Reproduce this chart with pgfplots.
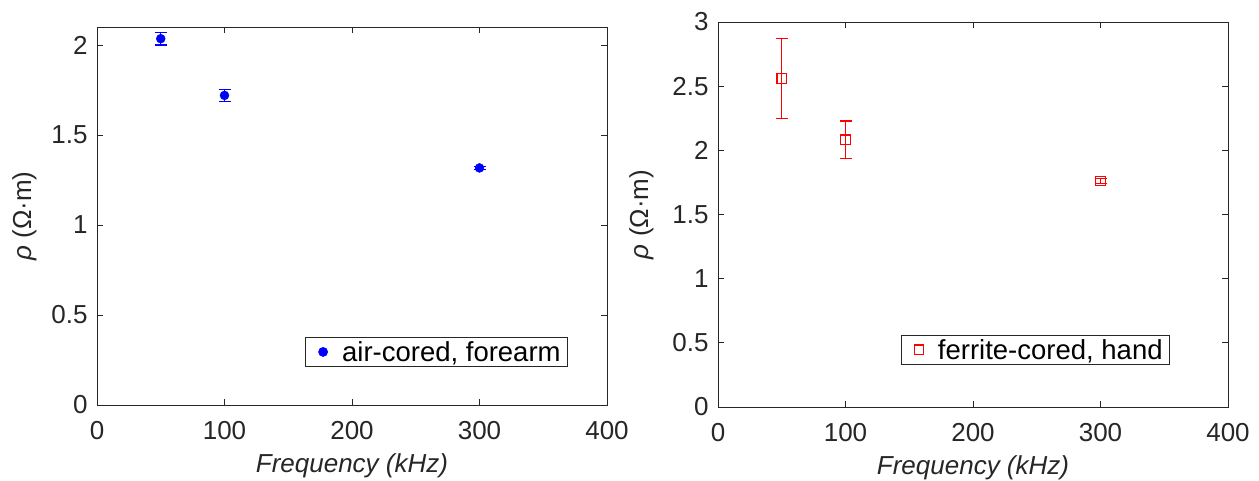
\documentclass[border=0pt]{standalone}
\usepackage{fontspec}
\setmainfont{Liberation Sans}
\usepackage{pgfplots}
\pgfplotsset{compat=1.18}
\definecolor{axgray}{gray}{0.15}
\begin{document}
\begin{tikzpicture}
\useasboundingbox (0pt,0pt) rectangle (1259pt,481pt);
\pgfplotsset{
  every axis/.append style={
    scale only axis,
    anchor=south west,
    xmin=0, xmax=400,
    xtick={0,100,200,300,400},
    tick align=inside,
    major tick length=6pt,
    axis line style={axgray, line width=0.9pt},
    every tick/.style={axgray, line width=0.9pt},
    tick label style={font=\fontsize{26}{30}\selectfont, text=axgray},
    xticklabel style={yshift=-13pt},
    yticklabel style={xshift=-6pt},
    /pgf/number format/assume math mode=true,
    xlabel={\itshape Frequency (kHz)},
    ylabel={\textit{ρ} (Ω·m)},
    label style={font=\fontsize{26}{30}\selectfont, text=axgray},
    xlabel style={yshift=-7pt},
    ylabel style={yshift=8pt},
    legend style={font=\fontsize{27.5}{31}\selectfont, draw=axgray, line width=0.7pt,
      inner xsep=2pt, inner ysep=2pt, legend cell align=left,
      nodes={inner xsep=5pt}},
  },
  mylegimg/.style={legend image code/.code={%
    \path[draw=none] (0pt,0pt) -- (30pt,0pt);
    \draw[draw=none, mark options={draw}] plot[mark repeat=1] coordinates {(16pt,0pt)};}},
}
\begin{axis}[
  at={(97pt,76pt)}, width=510pt, height=378pt,
  ymin=0, ymax=2.1,
  ytick={0,0.5,1,1.5,2},
  yticklabels={0,0.5,1,1.5,2},
  legend style={at={(1,0)}, anchor=south east, xshift=-39pt, yshift=38pt},
]
\addplot[only marks, mylegimg, mark=*, mark size=4.5pt, color=blue,
  mark options={draw=blue, fill=blue, solid},
  error bars/.cd, y dir=both, y explicit,
  error bar style={color=blue, line width=1.3pt},
  error mark options={rotate=90, mark size=6pt, color=blue, line width=1.3pt}]
  coordinates {
  (50,2.035) +- (0,0.035)
  (100,1.72) +- (0,0.033)
  (300,1.317) +- (0,0.008)
};
\addlegendentry{air-cored, forearm}
\end{axis}
\begin{axis}[
  at={(718pt,74pt)}, width=510pt, height=385pt,
  ymin=0, ymax=3,
  ytick={0,0.5,1,1.5,2,2.5,3},
  yticklabels={0,0.5,1,1.5,2,2.5,3},
  ylabel style={yshift=4pt},
  legend style={at={(1,0)}, anchor=south east, xshift=-58pt, yshift=42pt},
]
\addplot[only marks, mylegimg, mark=square, mark size=4.8pt, color=red, line width=1.3pt,
  mark options={draw=red, fill=none, solid},
  error bars/.cd, y dir=both, y explicit,
  error bar style={color=red, line width=1.3pt},
  error mark options={rotate=90, mark size=6pt, color=red, line width=1.3pt}]
  coordinates {
  (50,2.559) +- (0,0.31)
  (100,2.083) +- (0,0.145)
  (300,1.761) +- (0,0.022)
};
\addlegendentry{ferrite-cored, hand}
\end{axis}
\end{tikzpicture}
\end{document}
